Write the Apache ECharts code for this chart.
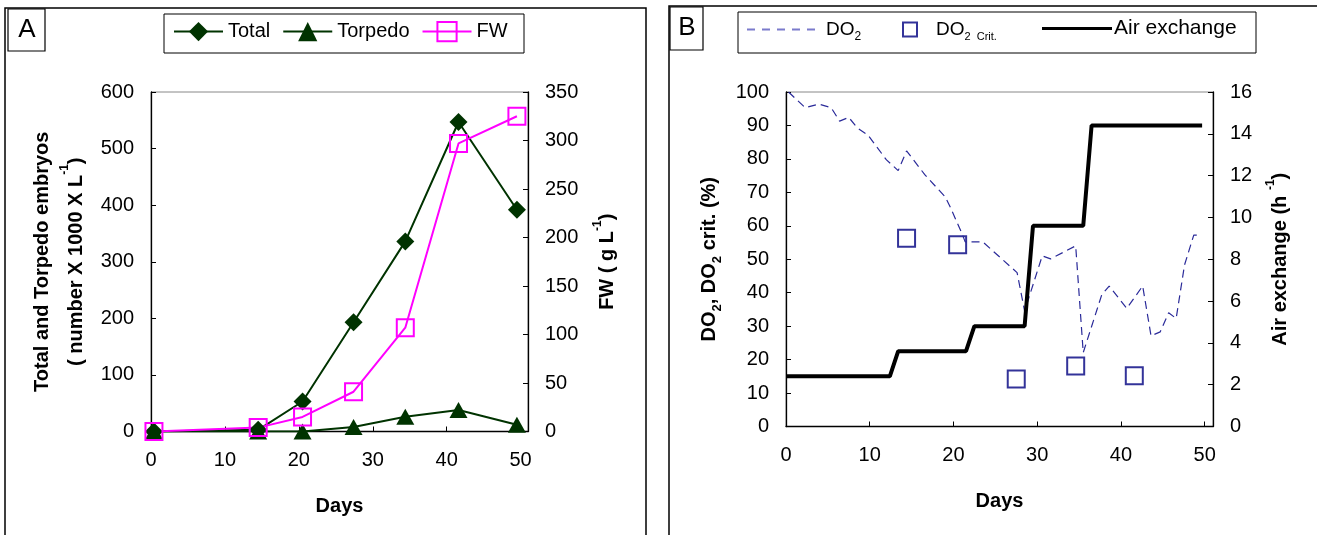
<!DOCTYPE html>
<html>
<head>
<meta charset="utf-8">
<title>Embryos, FW, DO2 and air exchange</title>
<script src="https://cdn.jsdelivr.net/npm/echarts@6/dist/echarts.min.js"></script>
<style>
  html, body { margin: 0; padding: 0; background: #fff; }
  #chart { width: 1317px; height: 535px; }
</style>
</head>
<body>
<div id="chart"></div>
<script>
// panel A
const daysA = [0.4, 14.5, 20.5, 27.4, 34.4, 41.6, 49.5]
const totalEmbryos = [0, 3, 53, 193, 336, 547, 392]
const torpedoEmbryos = [0, 0, 0, 8, 26, 38, 12]
const freshWeight = [0, 4, 15, 41, 107, 297, 325]

// panel B
const daysDO2 = [0.3, 2.3, 3.9, 5.4, 6.4, 7.5, 8.5, 9.8, 12, 13.4, 14.4, 16.6, 19, 19.6, 21, 21.4, 23.5, 27.6, 28.5, 30.6, 31.6, 34.6, 35.5, 37.7, 38.6, 40.7, 42.6, 43.6, 44.7, 45.7, 46.6, 47.6, 48.7, 49.5]
const do2 = [100, 95.3, 96.4, 95.3, 91.3, 92.4, 89.3, 87.1, 79.7, 76.5, 82.4, 75.2, 68.7, 65.7, 57.8, 55.2, 55.2, 46, 34.5, 51, 50.1, 54, 22.1, 39.3, 42, 35.3, 42, 27.1, 28.3, 34, 32.3, 48.3, 57.2, 57.2]
const daysCrit = [14.4, 20.5, 27.5, 34.6, 41.6]
const do2Crit = [56.3, 54.3, 14.2, 18.1, 15.2]
const daysAir = [0, 12.4, 13.4, 21.5, 22.5, 28.5, 29.5, 35.5, 36.5, 49.7]
const airExchange = [2.4, 2.4, 3.6, 3.6, 4.8, 4.8, 9.6, 9.6, 14.4, 14.4]

const font = 'Liberation Sans, Arial, sans-serif'
const green = '#003300'
const magenta = '#ff00ff'
const navy = '#00007f'

const pairs = (xs, ys) => xs.map((x, i) => [x, ys[i]])

function nameStyle (lh) {
  return {
    color: '#000',
    fontSize: 20,
    fontWeight: 'bold',
    fontFamily: font,
    lineHeight: lh,
    rich: {
      sup: { fontSize: 12, fontWeight: 'bold', fontFamily: font, verticalAlign: 'top', lineHeight: 30, padding: [0, 0, 12, 0] },
      sub: { fontSize: 13, fontWeight: 'bold', fontFamily: font, verticalAlign: 'bottom', lineHeight: 30, padding: [8, 0, 0, 0] }
    }
  }
}

function axis (extra) {
  return Object.assign({
    type: 'value',
    axisLine: { show: true, lineStyle: { color: '#000', width: 1.3 } },
    axisTick: { show: true, inside: true, length: 5, lineStyle: { color: '#000' } },
    axisLabel: { color: '#000', fontSize: 20, fontFamily: font, margin: 17 },
    splitLine: { show: false },
    nameLocation: 'middle',
    nameTextStyle: nameStyle(30)
  }, extra)
}

const xLabel = { color: '#000', fontSize: 20, fontFamily: font, margin: 19, showMaxLabel: false }

const option = {
  animation: false,
  backgroundColor: '#fff',
  grid: [
    { left: 151, top: 92, width: 377, height: 339.5, show: true, borderColor: '#888', borderWidth: 1 },
    { left: 786, top: 92, width: 427, height: 334.5, show: true, borderColor: '#888', borderWidth: 1 }
  ],
  xAxis: [
    axis({ gridIndex: 0, min: 0, max: 51, interval: 10, axisLabel: xLabel, name: 'Days', nameGap: 60 }),
    axis({ gridIndex: 1, min: 0, max: 51, interval: 10, axisLabel: xLabel, name: 'Days', nameGap: 60 })
  ],
  yAxis: [
    axis({ gridIndex: 0, min: 0, max: 600, interval: 100, name: 'Total and Torpedo embryos\n( number X 1000 X L{sup|-1})', nameGap: 58, nameTextStyle: nameStyle(34) }),
    axis({ gridIndex: 0, min: 0, max: 350, interval: 50, position: 'right', name: 'FW ( g L{sup|-1})', nameGap: 64 }),
    axis({ gridIndex: 1, min: 0, max: 100, interval: 10, name: 'DO{sub|2}, DO{sub|2} crit. (%)', nameGap: 62 }),
    axis({ gridIndex: 1, min: 0, max: 16, interval: 2, position: 'right', name: 'Air exchange (h {sup|-1})', nameGap: 52 })
  ],
  legend: [
    {
      data: ['Total', 'Torpedo', 'FW'],
      left: 173,
      top: 21,
      padding: 0,
      itemGap: 12,
      itemWidth: 49,
      itemHeight: 24,
      textStyle: { color: '#000', fontSize: 20, fontFamily: font }
    },
    {
      data: [{
        name: 'DO2',
        icon: 'path://M0,0h8v2h-8z M15,0h8v2h-8z M30,0h8v2h-8z M45,0h8v2h-8z M60,0h8v2h-8z',
        itemStyle: { color: '#7b7bcc' }
      }],
      left: 747,
      top: 20,
      padding: 0,
      itemWidth: 68,
      itemHeight: 2,
      formatter: () => '{m|DO}{s|2}',
      textStyle: {
        color: '#000',
        fontFamily: font,
        padding: [0, 0, 0, 6],
        rich: {
          m: { fontSize: 19, fontFamily: font, lineHeight: 26 },
          s: { fontSize: 12, fontFamily: font, verticalAlign: 'bottom', lineHeight: 26 }
        }
      }
    },
    {
      data: [{ name: 'DO2 Crit.', icon: 'rect' }],
      left: 902,
      top: 20,
      padding: 0,
      itemWidth: 14,
      itemHeight: 14,
      formatter: () => '{m|DO}{s|2  Crit.}',
      textStyle: {
        color: '#000',
        fontFamily: font,
        padding: [0, 0, 0, 14],
        rich: {
          m: { fontSize: 19, fontFamily: font, lineHeight: 26 },
          s: { fontSize: 11, fontFamily: font, verticalAlign: 'bottom', lineHeight: 26 }
        }
      }
    },
    {
      data: [{ name: 'Air exchange', icon: 'path://M0,0h70v3h-70z', itemStyle: { color: '#000' } }],
      left: 1042,
      top: 18,
      padding: 0,
      itemWidth: 70,
      itemHeight: 3,
      textStyle: { color: '#000', fontSize: 21, fontFamily: font, padding: [0, 0, 0, -3] }
    }
  ],
  graphic: [
    { type: 'rect', shape: { x: 5, y: 8, width: 641, height: 540 }, style: { fill: 'none', stroke: '#000', lineWidth: 1.5 } },
    { type: 'rect', shape: { x: 669, y: 6, width: 660, height: 540 }, style: { fill: 'none', stroke: '#000', lineWidth: 1.5 } },
    { type: 'rect', shape: { x: 8, y: 9, width: 37, height: 42 }, style: { fill: 'none', stroke: '#000', lineWidth: 1.2 } },
    { type: 'rect', shape: { x: 670, y: 7, width: 33, height: 43 }, style: { fill: 'none', stroke: '#000', lineWidth: 1.2 } },
    { type: 'text', x: 27, y: 30, style: { text: 'A', fontSize: 26, fontFamily: font, fill: '#000', align: 'center', verticalAlign: 'middle' } },
    { type: 'text', x: 687, y: 28, style: { text: 'B', fontSize: 26, fontFamily: font, fill: '#000', align: 'center', verticalAlign: 'middle' } },
    { type: 'rect', shape: { x: 164, y: 14, width: 360, height: 39 }, style: { fill: 'none', stroke: '#000', lineWidth: 1 } },
    { type: 'rect', shape: { x: 738, y: 12, width: 518, height: 41 }, style: { fill: 'none', stroke: '#000', lineWidth: 1 } }
  ],
  series: [
    {
      name: 'Total',
      type: 'line',
      xAxisIndex: 0,
      yAxisIndex: 0,
      data: pairs(daysA, totalEmbryos),
      symbol: 'diamond',
      symbolSize: 18,
      itemStyle: { color: green },
      lineStyle: { color: green, width: 2 }
    },
    {
      name: 'Torpedo',
      type: 'line',
      xAxisIndex: 0,
      yAxisIndex: 0,
      data: pairs(daysA, torpedoEmbryos),
      symbol: 'triangle',
      symbolSize: [18, 16],
      itemStyle: { color: green },
      lineStyle: { color: green, width: 2 }
    },
    {
      name: 'FW',
      type: 'line',
      xAxisIndex: 0,
      yAxisIndex: 1,
      data: pairs(daysA, freshWeight),
      symbol: 'rect',
      symbolSize: 17,
      itemStyle: { color: 'rgba(255,255,255,0)', borderColor: magenta, borderWidth: 2 },
      lineStyle: { color: magenta, width: 2 }
    },
    {
      name: 'DO2',
      type: 'line',
      xAxisIndex: 1,
      yAxisIndex: 2,
      data: pairs(daysDO2, do2),
      symbol: 'none',
      itemStyle: { color: '#3333a0' },
      lineStyle: { color: '#2a2a99', width: 1.2, type: [8, 5] }
    },
    {
      name: 'DO2 Crit.',
      type: 'scatter',
      xAxisIndex: 1,
      yAxisIndex: 2,
      data: pairs(daysCrit, do2Crit),
      symbol: 'rect',
      symbolSize: 17,
      itemStyle: { color: 'rgba(255,255,255,0)', borderColor: navy, borderWidth: 2 }
    },
    {
      name: 'Air exchange',
      type: 'line',
      xAxisIndex: 1,
      yAxisIndex: 3,
      data: pairs(daysAir, airExchange),
      symbol: 'none',
      itemStyle: { color: '#000' },
      lineStyle: { color: '#000', width: 4 }
    }
  ]
}

const chart = echarts.init(document.getElementById('chart'))
chart.setOption(option)
</script>
</body>
</html>
